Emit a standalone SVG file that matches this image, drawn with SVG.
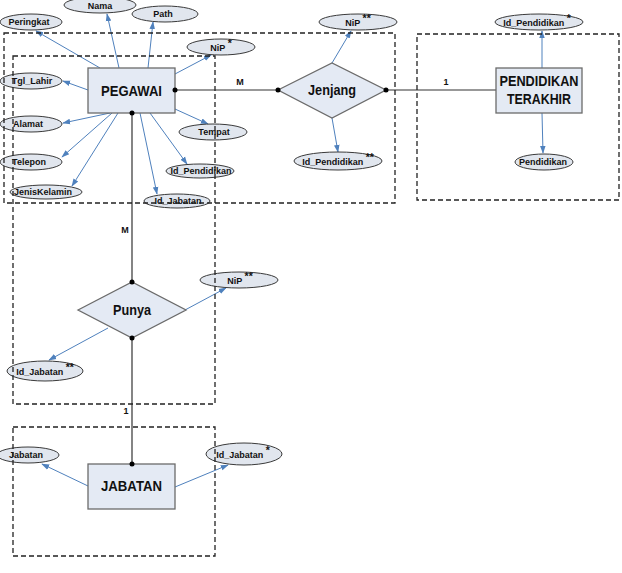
<svg xmlns="http://www.w3.org/2000/svg" width="622" height="573" viewBox="0 0 622 573">
<style>
.ent{fill:#E4EAF4;stroke:#6b6b6b;stroke-width:1.3}
.att{fill:#E1E6EE;stroke:#3a3a3a;stroke-width:1}
.et{font-family:"Liberation Sans",Arial,sans-serif;font-weight:bold;font-size:14px;fill:#111;text-anchor:middle}
.at{font-family:"Liberation Sans",Arial,sans-serif;font-weight:bold;font-size:9px;fill:#111;text-anchor:middle}
.st{font-size:10.5px}
.lb{font-family:"Liberation Sans",Arial,sans-serif;font-weight:bold;font-size:9px;fill:#111;text-anchor:middle}
.rel{stroke:#333;stroke-width:1.2;fill:none}
.arr{stroke:#4F81BD;stroke-width:1;fill:none;marker-end:url(#ah)}
.dot{fill:#000}
.frame{fill:none;stroke:#222;stroke-width:1.3;stroke-dasharray:5,3}
</style>
<defs>
<marker id="ah" viewBox="0 0 10 10" refX="9" refY="5" markerWidth="8" markerHeight="8" markerUnits="userSpaceOnUse" orient="auto">
<path d="M0,1.5 L10,5 L0,8.5 Z" fill="#4F81BD"/>
</marker>
</defs>
<rect width="622" height="573" fill="#fff"/>
<g id="connectors">
<line class="rel" x1="175" y1="90" x2="278" y2="90"/>
<line class="rel" x1="386" y1="90" x2="496" y2="90"/>
<line class="rel" x1="132" y1="113" x2="132" y2="282"/>
<line class="rel" x1="132" y1="338" x2="132" y2="464"/>
<text class="lb" x="240" y="85">M</text>
<text class="lb" x="446" y="85">1</text>
<text class="lb" x="125" y="233">M</text>
<text class="lb" x="126" y="414">1</text>
<line class="arr" x1="100" y1="68" x2="36" y2="31"/>
<line class="arr" x1="119" y1="68" x2="107" y2="14"/>
<line class="arr" x1="148" y1="68" x2="153" y2="22"/>
<line class="arr" x1="175" y1="74" x2="211" y2="55"/>
<line class="arr" x1="88" y1="90" x2="63" y2="81"/>
<line class="arr" x1="110" y1="113" x2="63" y2="123"/>
<line class="arr" x1="112" y1="113" x2="62" y2="157"/>
<line class="arr" x1="118" y1="113" x2="72" y2="186"/>
<line class="arr" x1="175" y1="109" x2="208" y2="124"/>
<line class="arr" x1="150" y1="113" x2="187" y2="164"/>
<line class="arr" x1="140" y1="113" x2="157" y2="194"/>
<line class="arr" x1="332" y1="63" x2="351" y2="31"/>
<line class="arr" x1="332" y1="118" x2="338" y2="152"/>
<line class="arr" x1="542" y1="68" x2="542" y2="31"/>
<line class="arr" x1="542" y1="113" x2="543" y2="153"/>
<line class="arr" x1="185" y1="310" x2="226" y2="288"/>
<line class="arr" x1="108" y1="328" x2="49" y2="360"/>
<line class="arr" x1="88" y1="486" x2="42" y2="464"/>
<line class="arr" x1="175" y1="487" x2="228" y2="465"/>
</g>
<g id="PEGAWAI"><rect class="ent" x="88" y="68" width="87" height="45"/><text class="et" x="131.5" y="96" textLength="61" lengthAdjust="spacingAndGlyphs">PEGAWAI</text></g>
<g id="Jenjang"><polygon class="ent" points="278,90 332,63 386,90 332,118"/><text class="et" x="332" y="95" textLength="48" lengthAdjust="spacingAndGlyphs">Jenjang</text></g>
<g id="PENDIDIKAN_TERAKHIR"><rect class="ent" x="496" y="68" width="86" height="45"/><text class="et" x="539" y="86" textLength="79" lengthAdjust="spacingAndGlyphs">PENDIDIKAN</text><text class="et" x="539" y="104" textLength="64" lengthAdjust="spacingAndGlyphs">TERAKHIR</text></g>
<g id="Punya"><polygon class="ent" points="78,310 132,282 186,310 132,338"/><text class="et" x="132" y="315" textLength="38" lengthAdjust="spacingAndGlyphs">Punya</text></g>
<g id="JABATAN"><rect class="ent" x="88" y="464" width="87" height="45"/><text class="et" x="131.5" y="491" textLength="61" lengthAdjust="spacingAndGlyphs">JABATAN</text></g>
<g id="dots">
<circle class="dot" cx="175" cy="90" r="2.5"/><circle class="dot" cx="278" cy="90" r="2.5"/>
<circle class="dot" cx="386" cy="90" r="2.5"/>
<circle class="dot" cx="132" cy="113" r="2.5"/><circle class="dot" cx="132" cy="282" r="2.5"/>
<circle class="dot" cx="132" cy="338" r="2.5"/><circle class="dot" cx="132" cy="464" r="2.5"/>
</g>
<g id="att_peringkat"><ellipse class="att" cx="31" cy="22" rx="31" ry="8"/><text class="at" x="29" y="25">Peringkat</text></g>
<g id="att_nama"><ellipse class="att" cx="100" cy="5" rx="36" ry="8"/><text class="at" x="100" y="9">Nama</text></g>
<g id="att_path"><ellipse class="att" cx="165" cy="14" rx="33" ry="8"/><text class="at" x="163" y="17">Path</text></g>
<g id="att_nip1"><ellipse class="att" cx="221" cy="47" rx="34" ry="8"/><text class="at" x="221" y="51">NiP <tspan class="st" dy="-4">*</tspan></text></g>
<g id="att_tgllahir"><ellipse class="att" cx="31" cy="81" rx="31" ry="8"/><text class="at" x="32" y="84">Tgl_Lahir</text></g>
<g id="att_alamat"><ellipse class="att" cx="31" cy="124" rx="31" ry="8"/><text class="at" x="28" y="127">Alamat</text></g>
<g id="att_telepon"><ellipse class="att" cx="31" cy="162" rx="31" ry="8"/><text class="at" x="29" y="165">Telepon</text></g>
<g id="att_jeniskelamin"><ellipse class="att" cx="46" cy="192" rx="36" ry="7"/><text class="at" x="43" y="195">JenisKelamin</text></g>
<g id="att_tempat"><ellipse class="att" cx="213" cy="132" rx="34" ry="8"/><text class="at" x="214" y="135">Tempat</text></g>
<g id="att_idpend1"><ellipse class="att" cx="200" cy="171" rx="34" ry="7"/><text class="at" x="201" y="174">Id_Pendidikan</text></g>
<g id="att_idjab1"><ellipse class="att" cx="177" cy="201" rx="33" ry="7"/><text class="at" x="178" y="204">Id_Jabatan</text></g>
<g id="att_nip2"><ellipse class="att" cx="358" cy="22" rx="39" ry="8"/><text class="at" x="358" y="26">NiP <tspan class="st" dy="-4">**</tspan></text></g>
<g id="att_idpend2"><ellipse class="att" cx="338" cy="161" rx="44" ry="9"/><text class="at" x="338" y="165">Id_Pendidikan <tspan class="st" dy="-4">**</tspan></text></g>
<g id="att_idpend3"><ellipse class="att" cx="539" cy="22" rx="44" ry="8"/><text class="at" x="537" y="26">Id_Pendidikan <tspan class="st" dy="-4">*</tspan></text></g>
<g id="att_pendidikan"><ellipse class="att" cx="544" cy="162" rx="29" ry="8"/><text class="at" x="543" y="165">Pendidikan</text></g>
<g id="att_nip3"><ellipse class="att" cx="239" cy="280" rx="39" ry="8"/><text class="at" x="240" y="284">NiP <tspan class="st" dy="-4">**</tspan></text></g>
<g id="att_idjab2"><ellipse class="att" cx="45" cy="371" rx="38" ry="10"/><text class="at" x="45" y="375">Id_Jabatan <tspan class="st" dy="-4">**</tspan></text></g>
<g id="att_jabatan"><ellipse class="att" cx="28" cy="455" rx="31" ry="8"/><text class="at" x="26" y="458">Jabatan</text></g>
<g id="att_idjab3"><ellipse class="att" cx="244" cy="454" rx="38" ry="11"/><text class="at" x="243" y="458">Id_Jabatan <tspan class="st" dy="-4">*</tspan></text></g>
<g id="frames">
<rect class="frame" x="4" y="33" width="391" height="170"/>
<rect class="frame" x="13" y="56" width="202" height="348"/>
<rect class="frame" x="417" y="34" width="202" height="166"/>
<rect class="frame" x="13" y="427" width="202" height="129"/>
</g>
</svg>
